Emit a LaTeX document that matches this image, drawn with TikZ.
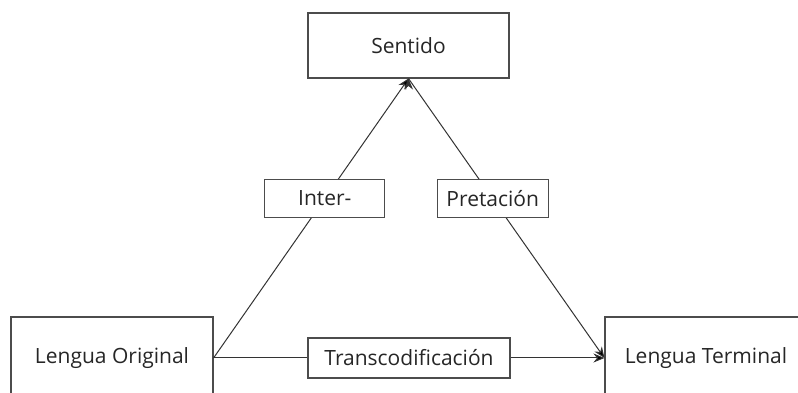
\documentclass[tikz,border=0pt]{standalone}
\usepackage{fontspec}
\setmainfont{Open Sans}
\usepackage{tikz}
\usetikzlibrary{positioning, arrows.meta}

\tikzset{
  caja/.style={draw=black!70, line width=1.1pt, minimum width=202pt, text=black!85},
  etiq/.style={draw=black!70, line width=1.1pt, fill=white, minimum height=38pt, inner xsep=6pt, text=black!85}
}

\begin{document}
\begin{tikzpicture}[x=1pt, y=1pt, node distance=594pt, on grid, font=\fontsize{21}{24}\selectfont]
   \useasboundingbox (0,0) rectangle (798,393);
   \node[caja, minimum height=82pt] (orig) at (112,35) {Lengua Original};
   \node[caja, minimum height=82pt] (term) [right=of orig] {Lengua Terminal};
   \node[caja, minimum height=65pt, minimum width=201pt] (sent) at (408.5,347.5) {Sentido};

    \path[-{Stealth[length=11pt, width=9pt]}, draw=black!80, line width=1pt]
    (orig.east) edge node [etiq, pos=0.571, minimum width=120pt] {Inter-} (sent.south)
                edge node [etiq, minimum width=202pt, minimum height=40pt] {Transcodificación} (term.west)
    (sent.south) edge node [etiq, pos=0.43, minimum width=111pt] {Pretación} (term.west);
\end{tikzpicture}
\end{document}
